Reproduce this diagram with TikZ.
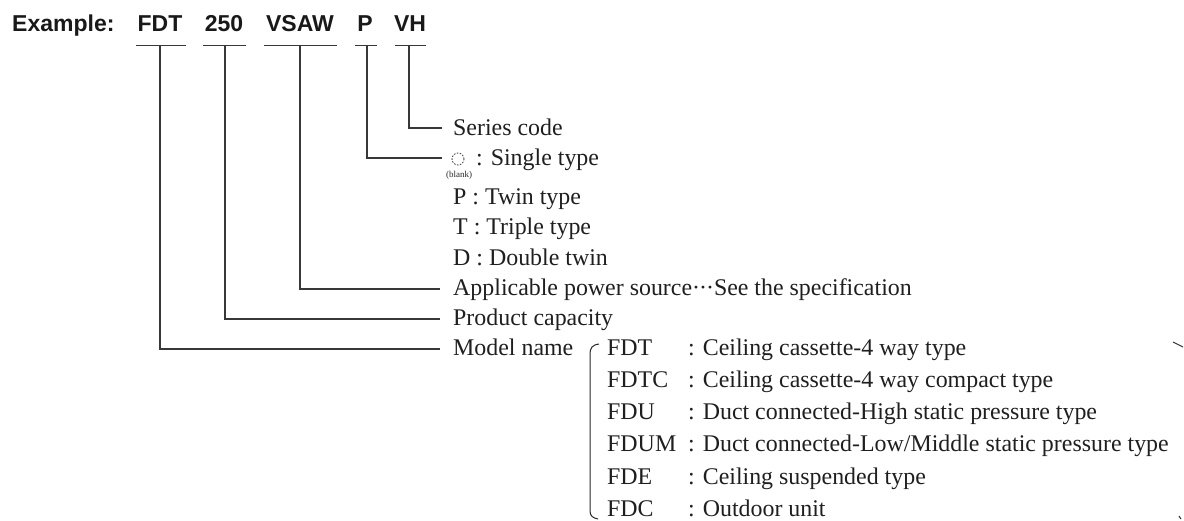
\documentclass[tikz,border=0pt]{standalone}
\usepackage{fontspec}
\setmainfont{Liberation Serif}
\newfontfamily\hdrfont{Liberation Sans}
\begin{document}
\begin{tikzpicture}[x=1pt,y=-1pt,
  hdr/.style={font=\hdrfont\bfseries\fontsize{23}{26}\selectfont, anchor=base, inner sep=0pt, text=black!90},
  lbl/.style={font=\fontsize{23.9}{27}\selectfont, anchor=base west, inner sep=0pt, text=black!88},
  tiny/.style={font=\fontsize{9}{10}\selectfont, anchor=base, inner sep=0pt, text=black!85},
  ln/.style={line width=1.2pt, draw=black!78}]
\useasboundingbox (0,0) rectangle (1184,520);
% header
\node[hdr, anchor=base west] (ex) at (12,31.7) {Example:};
\node[hdr] (wfdt) at (160,31.7) {FDT};
\node[hdr] (w250) at (224,31.7) {250};
\node[hdr] (wvsaw) at (300,31.7) {VSAW};
\node[hdr] (wp) at (365,31.7) {P};
\node[hdr] (wvh) at (410,31.7) {VH};
% bars
\coordinate (b1) at (160,45.7);
\coordinate (b2) at (225,45.7);
\coordinate (b3) at (300,45.7);
\coordinate (b4) at (367,45.7);
\coordinate (b5) at (409,45.7);
\draw[ln] (136,45.7) -- (186,45.7);
\draw[ln] (203,45.7) -- (246,45.7);
\draw[ln] (264,45.7) -- (337,45.7);
\draw[ln] (355,45.7) -- (377,45.7);
\draw[ln] (395,45.7) -- (426,45.7);
% labels
\node[lbl] (series) at (453,135) {Series code};
\node[draw=black!78, dash pattern=on 1.6pt off 1.4pt, line width=0.8pt, circle, minimum size=12pt, inner sep=0pt] (blank) at (458,159) {};
\node[tiny] (blanktxt) at (459,177) {(blank)};
\node[lbl] (single) at (476,165) {: Single type};
\node[lbl] (twin) at (453,204) {P : Twin type};
\node[lbl] (triple) at (453,234) {T : Triple type};
\node[lbl] (double) at (453,265) {D : Double twin};
\node[lbl] (power) at (453,295) {Applicable power source{\textperiodcentered}\kern-1pt{\textperiodcentered}\kern-1pt{\textperiodcentered}See the specification};
\node[lbl] (capa) at (453,325) {Product capacity};
\node[lbl] (model) at (453,355) {Model name};
% line ends
\coordinate (eSeries) at (442,128);
\coordinate (eSingle) at (442,158);
\coordinate (ePower) at (440,289);
\coordinate (eCapa) at (440,319);
\coordinate (eModel) at (440,349);
\draw[ln] (b5) |- (eSeries);
\draw[ln] (b4) |- (eSingle);
\draw[ln] (b3) |- (ePower);
\draw[ln] (b2) |- (eCapa);
\draw[ln] (b1) |- (eModel);
% bracket
\coordinate (brT) at (599,344);
\coordinate (brB) at (598,519);
\draw[line width=1pt, draw=black!85] (brT) .. controls (592,345) and (590,348) .. (590,354) -- (590,511) .. controls (590,516) and (593,518) .. (brB);
% model list
\node[lbl] (c1) at (607,355) {FDT};
\node[lbl] (d1) at (688,355) {: Ceiling cassette-4 way type};
\node[lbl] (c2) at (607,387) {FDTC};
\node[lbl] (d2) at (688,387) {: Ceiling cassette-4 way compact type};
\node[lbl] (c3) at (607,419) {FDU};
\node[lbl] (d3) at (688,419) {: Duct connected-High static pressure type};
\node[lbl] (c4) at (607,451) {FDUM};
\node[lbl] (d4) at (688,451) {: Duct connected-Low/Middle static pressure type};
\node[lbl] (c5) at (607,484) {FDE};
\node[lbl] (d5) at (688,484) {: Ceiling suspended type};
\node[lbl] (c6) at (607,516) {FDC};
\node[lbl] (d6) at (688,516) {: Outdoor unit};
% stray marks at right edge
\draw[line width=1pt, draw=black!80] (1173,342) -- (1183,347);
\draw[line width=1pt, draw=black!80] (1179,516) -- (1181,519);
\end{tikzpicture}
\end{document}
